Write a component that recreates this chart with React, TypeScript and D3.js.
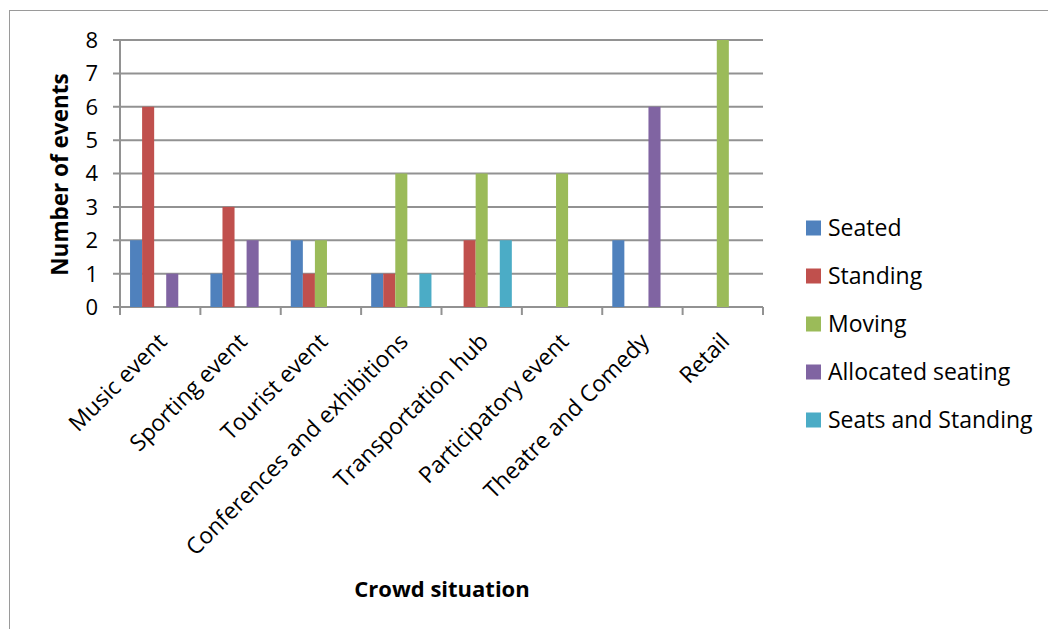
import React from 'react';
import * as d3 from 'd3';

const categories = [
  'Music event',
  'Sporting event',
  'Tourist event',
  'Conferences and exhibitions',
  'Transportation hub',
  'Participatory event',
  'Theatre and Comedy',
  'Retail',
];

const seriesNames = ['Seated', 'Standing', 'Moving', 'Allocated seating', 'Seats and Standing'];
const seriesColors = ['#4F81BD', '#C0504D', '#9BBB59', '#8064A2', '#4BACC6'];

const seated = [2, 1, 2, 1, 0, 0, 2, 0];
const standing = [6, 3, 1, 1, 2, 0, 0, 0];
const moving = [0, 0, 2, 4, 4, 4, 0, 8];
const allocatedSeating = [1, 2, 0, 0, 0, 0, 6, 0];
const seatsAndStanding = [0, 0, 0, 1, 2, 0, 0, 0];

const seriesValues = [seated, standing, moving, allocatedSeating, seatsAndStanding];
const yTicks = [0, 1, 2, 3, 4, 5, 6, 7, 8];

const FONT = '"Open Sans", "DejaVu Sans", sans-serif';

const App: React.FC = () => {
  const left = 120;
  const right = 763;
  const top = 40;
  const bottom = 307;

  const x0 = d3.scaleBand<string>().domain(categories).range([left, right]).paddingInner(0).paddingOuter(0);
  const x1 = d3
    .scaleBand<string>()
    .domain(seriesNames)
    .range([0, x0.bandwidth()])
    .paddingOuter(10 / 12)
    .paddingInner(0);
  const y = d3.scaleLinear().domain([0, 8]).range([bottom, top]);

  const gridColor = '#929292';
  const tickEdges = [...categories.map(c => x0(c) as number), right];

  return (
    <svg
      width={1048}
      height={629}
      style={{ position: 'absolute', left: 0, top: 0, background: '#fff' }}
    >
      <rect x={9.5} y={10.5} width={1100} height={700} fill="#fff" stroke="#9a9a9a" strokeWidth={1} />

      {/* grid lines */}
      {yTicks.map(t => (
        <line key={`g${t}`} x1={113} x2={right} y1={y(t)} y2={y(t)} stroke={gridColor} strokeWidth={2} />
      ))}

      {/* y axis */}
      <line x1={left} x2={left} y1={top} y2={bottom} stroke={gridColor} strokeWidth={2} />
      {yTicks.map(t => (
        <text
          key={`yl${t}`}
          x={98}
          y={y(t)}
          dy="0.36em"
          textAnchor="end"
          fontFamily={FONT}
          fontSize={22}
          fill="#000"
        >
          {t}
        </text>
      ))}

      {/* x axis ticks */}
      {tickEdges.map((e, i) => (
        <line key={`xt${i}`} x1={e} x2={e} y1={bottom} y2={315} stroke={gridColor} strokeWidth={2} />
      ))}

      {/* bars */}
      {seriesValues.map((vals, si) =>
        vals.map((v, ci) =>
          v > 0 ? (
            <rect
              key={`b${si}-${ci}`}
              x={(x0(categories[ci]) as number) + (x1(seriesNames[si]) as number)}
              y={y(v)}
              width={x1.bandwidth()}
              height={y(0) - y(v)}
              fill={seriesColors[si]}
            />
          ) : null
        )
      )}

      {/* category labels */}
      {categories.map(c => {
        const cx = (x0(c) as number) + x0.bandwidth() / 2;
        return (
          <text
            key={`cl${c}`}
            transform={`translate(${cx + 8},${343}) rotate(-45)`}
            textAnchor="end"
            fontFamily={FONT}
            fontSize={22.8}
            fill="#000"
          >
            {c}
          </text>
        );
      })}

      {/* axis titles */}
      <text
        transform={`translate(68,${(top + bottom) / 2 + 1}) rotate(-90)`}
        textAnchor="middle"
        fontFamily={FONT}
        fontWeight="bold"
        fontSize={22.5}
        fill="#000"
      >
        Number of events
      </text>
      <text x={442} y={597} textAnchor="middle" fontFamily={FONT} fontWeight="bold" fontSize={22} fill="#000">
        Crowd situation
      </text>

      {/* legend */}
      {seriesNames.map((name, i) => {
        const cy = 228 + i * 48;
        return (
          <g key={`lg${name}`}>
            <rect x={806} y={cy - 7.5} width={15} height={15} fill={seriesColors[i]} />
            <text x={828} y={cy} dy="0.36em" fontFamily={FONT} fontSize={23} fill="#000">
              {name}
            </text>
          </g>
        );
      })}
    </svg>
  );
};

export default App;
